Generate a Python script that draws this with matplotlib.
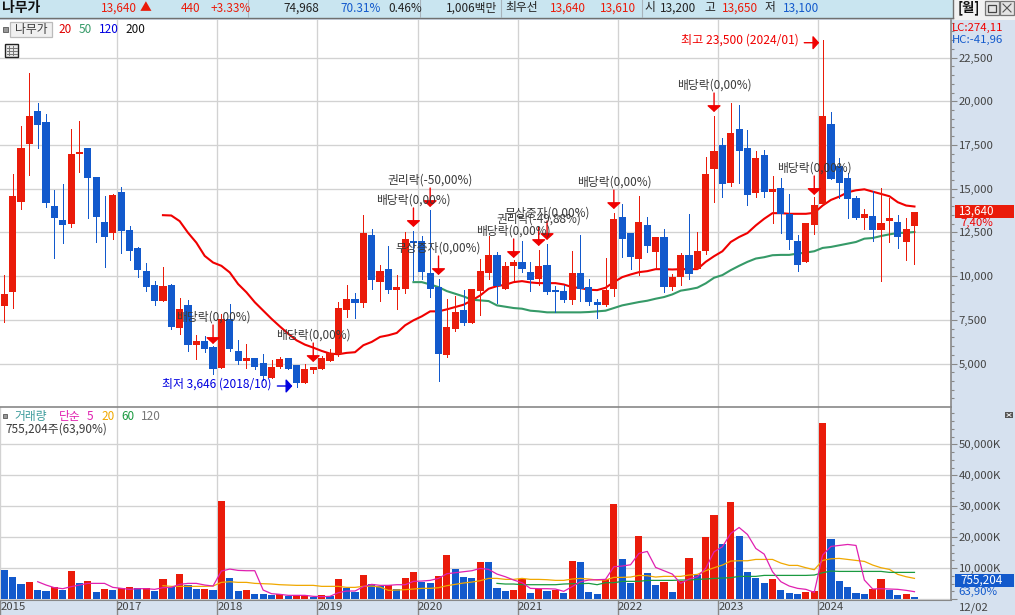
#!/usr/bin/env python3
"""Monthly candlestick and volume chart for 나무가, with moving averages and event markers."""

import numpy as np
import matplotlib
matplotlib.use("Agg")
import matplotlib.pyplot as plt
from matplotlib.patches import Rectangle
from matplotlib.ticker import FuncFormatter, MultipleLocator

plt.rcParams["font.family"] = ["Noto Sans CJK KR", "DejaVu Sans"]

RED = "#EA1B0A"
BLUE = "#1259CC"
GRID = "#D2D2D2"
HEADER_BG = "#C9E5F0"
PANEL_BG = "#D6E1EF"
EDGE = "#888888"
TEXT = "#3A3A3A"

# monthly prices, oldest first
opens = [
    8300, 9070, 14250, 17580, 19460, 18830, 14000, 13200, 12970, 16990,
    17300, 15650, 13090, 12460, 14790, 12630, 11610, 10300, 9510, 8600,
    9510, 7010, 8320, 6040, 6270, 5930, 4730, 7520, 5700, 5130,
    5300, 5020, 4170, 4790, 5300, 4900, 3880, 4620, 4680, 5130,
    5530, 8040, 8670, 8440, 12370, 9690, 10380, 9180, 9290, 12030,
    12030, 10150, 9350, 5480, 6960, 8040, 7300, 9120, 10150, 11180,
    9290, 10550, 10780, 10210, 9860, 10660, 9180, 9120, 8610, 10150,
    9350, 8500, 8330, 9240, 13400, 12490, 11000, 12940, 11400, 12260,
    9380, 9940, 11190, 10400, 11420, 16140, 17500, 15340, 18430, 17350,
    14780, 16900, 14830, 15060, 13580, 11990, 10800, 12900, 14150, 18720,
    16270, 15590, 14490, 13300, 13410, 12620, 13130, 13070, 11930, 12840,
]
highs = [
    10080, 15820, 18600, 21640, 19910, 19290, 14900, 15250, 18430, 18890,
    17300, 15650, 14560, 14680, 15080, 12860, 11670, 10760, 9740, 10530,
    9570, 8770, 8660, 6610, 6550, 6000, 7860, 8430, 6330, 6100,
    5300, 5530, 5190, 5360, 5300, 4910, 4960, 4800, 5420, 5810,
    8540, 9470, 9010, 13510, 12710, 10660, 11750, 10090, 12540, 12600,
    12320, 13800, 9860, 8670, 8840, 9180, 9290, 10950, 12320, 11400,
    10830, 10900, 12030, 10780, 11520, 11860, 9410, 9470, 11460, 12370,
    9810, 8670, 11060, 13630, 14140, 12490, 14600, 13400, 12260, 12710,
    10120, 11310, 13580, 12500, 16820, 19170, 17920, 19910, 19800, 18380,
    17130, 17240, 15740, 15630, 14720, 12330, 13010, 14510, 23500, 19400,
    16780, 15870, 14600, 13810, 14890, 15060, 14490, 13470, 13350, 13650,
]
lows = [
    7370, 8160, 13830, 15760, 17300, 13940, 11060, 11910, 12820, 15930,
    13330, 11970, 10530, 12120, 11330, 10930, 9960, 9170, 8370, 8600,
    6950, 6670, 5700, 5250, 5640, 4390, 4730, 5700, 4960, 4740,
    4680, 4050, 4170, 4740, 4680, 3646, 3880, 4450, 4680, 5130,
    5420, 7640, 7580, 8210, 9290, 8550, 9010, 8100, 9010, 9750,
    9860, 8780, 3990, 5360, 6840, 7190, 7300, 7760, 9810, 8440,
    9240, 9750, 10210, 9120, 9470, 8950, 7930, 8500, 8380, 8550,
    8330, 7580, 8270, 8840, 11120, 10430, 10040, 11350, 10490, 9070,
    9200, 9490, 9830, 10400, 11250, 14260, 14550, 15170, 15340, 14090,
    14550, 14550, 13010, 12450, 11540, 10280, 10800, 12390, 14150, 15570,
    14490, 13350, 13240, 12670, 11990, 9720, 11930, 11590, 10910, 10680,
]
closes = [
    8980, 14560, 17300, 19170, 18660, 14190, 13310, 12920, 17010, 17080,
    15590, 13370, 12240, 14620, 12580, 11440, 10360, 9390, 8600, 9450,
    7060, 8140, 6040, 6270, 5810, 4680, 7520, 5810, 5130, 5300,
    4790, 4280, 4790, 5250, 4680, 3880, 4680, 4790, 5300, 5590,
    8200, 8670, 8440, 12490, 9750, 10320, 9180, 9350, 12140, 11920,
    10210, 9240, 5530, 7070, 7930, 7300, 9290, 10320, 11230, 9410,
    10600, 10780, 10430, 9750, 10600, 9070, 9070, 8610, 10150, 9290,
    8500, 8330, 9180, 13280, 12140, 11120, 13110, 11750, 12260, 9350,
    9950, 11190, 10110, 11420, 15860, 17160, 15290, 18210, 17130, 14660,
    16780, 14830, 15000, 13530, 12050, 10630, 13010, 14090, 19170, 15570,
    15340, 14430, 13350, 13530, 12620, 13010, 13350, 12220, 12670, 13640,
]

# moving averages start part way through the series
ma20_start = 19
ma20 = [
    13485, 13466, 13144, 12481, 11913, 11155, 10777, 10587, 10209, 9546,
    9072, 8504, 8030, 7557, 7121, 6705, 6326, 6080, 5909, 5720,
    5568, 5530, 5608, 5646, 6045, 6235, 6520, 6615, 6748, 7185,
    7470, 7698, 7983, 7983, 8097, 8230, 8363, 8610, 8895, 9275,
    9427, 9503, 9655, 9712, 9636, 9598, 9598, 9598, 9522, 9370,
    9313, 9218, 9199, 9332, 9655, 9940, 10092, 10225, 10282, 10396,
    10396, 10377, 10398, 10398, 10398, 10815, 11137, 11421, 11952, 12236,
    12463, 12899, 13278, 13600, 13600, 13563, 13563, 13563, 13620, 14036,
    14358, 14548, 14794, 14908, 14965, 14832, 14700, 14567, 14226, 14036,
    13980,
]
ma50_start = 49
ma50 = [
    9655, 9655, 9522, 9370, 9142, 8990, 8838, 8648, 8610, 8572,
    8325, 8249, 8173, 8135, 8021, 7983, 7926, 7926, 7926, 7926,
    7926, 7945, 7983, 8021, 8173, 8325, 8420, 8515, 8591, 8705,
    8800, 8952, 9166, 9242, 9337, 9583, 9905, 10057, 10341, 10587,
    10815, 11004, 11080, 11194, 11213, 11213, 11289, 11345, 11421, 11611,
    11668, 11762, 11857, 11952, 12141, 12179, 12293, 12388, 12463, 12482,
    12520,
]

# monthly volume in thousands of shares; bar colour follows the previous month
volumes = [
    9350, 7100, 4840, 5480, 2900, 2580, 3870, 2900, 9030, 5160,
    5800, 2260, 3220, 2900, 3550, 3870, 3550, 3550, 2580, 6450,
    3870, 8060, 4515, 3220, 3220, 2900, 31600, 6770, 2580, 2900,
    1610, 1610, 1290, 1610, 970, 1290, 1290, 645, 1290, 970,
    6450, 3550, 2260, 7740, 4840, 4190, 4515, 3225, 6770, 8710,
    5480, 5160, 7420, 14190, 9675, 7095, 6770, 11930, 11930, 3550,
    2580, 2900, 6450, 1935, 3225, 2580, 2900, 1935, 12255, 11930,
    2260, 1610, 6450, 30640, 12900, 5160, 20320, 8385, 4515, 5480,
    2260, 5800, 13220, 7740, 19995, 27090, 17740, 31280, 20320, 8710,
    6770, 5160, 6450, 2900, 1935, 1610, 2260, 2580, 56760, 19350,
    5800, 3870, 1935, 1610, 3225, 6450, 2900, 1290, 1610, 755,
]
volume_up = [
    0, 0, 0, 1, 0, 0, 1, 0, 1, 0,
    1, 0, 1, 0, 1, 1, 0, 1, 0, 1,
    0, 1, 0, 0, 1, 0, 1, 0, 0, 1,
    0, 0, 0, 1, 0, 1, 1, 0, 1, 0,
    1, 0, 0, 1, 0, 0, 1, 0, 1, 1,
    0, 0, 1, 1, 0, 0, 0, 1, 0, 0,
    0, 1, 1, 0, 1, 0, 1, 0, 1, 0,
    0, 0, 1, 1, 0, 0, 1, 0, 0, 1,
    0, 1, 1, 0, 1, 1, 0, 1, 0, 0,
    0, 0, 1, 0, 0, 0, 1, 1, 1, 0,
    0, 0, 0, 0, 1, 1, 0, 0, 1, 0,
]
vol_ma5_start = 4
vol_ma5 = [
    5590, 4515, 3655, 3330, 3980, 4515, 5050, 5050, 5050, 3760,
    3440, 3120, 3330, 3330, 3120, 3655, 3760, 4730, 5050, 5050,
    4515, 4190, 9030, 9675, 9245, 9140, 9140, 2900, 1720, 1505,
    1180, 1180, 1180, 860, 750, 860, 2040, 2580, 2580, 3980,
    4730, 4410, 4410, 4620, 4620, 5700, 5800, 6020, 6665, 8170,
    8490, 8815, 9140, 9890, 9570, 8060, 7200, 6130, 5270, 3440,
    3330, 3330, 3225, 2470, 4000, 5590, 6130, 6240, 6340, 10430,
    10640, 11070, 14730, 15370, 10210, 9140, 8060, 5050, 6450, 7200,
    9890, 15265, 16880, 21180, 23110, 20855, 16340, 14510, 8815, 5590,
    4190, 3440, 3120, 2150, 14190, 16985, 17310, 17630, 17310, 6130,
    3225, 3330, 3225, 3120, 2795, 2365,
]
vol_ma20_start = 19
vol_ma20 = [
    4300, 4085, 4085, 4085, 4085, 4085, 4190, 5375, 5590, 5375,
    5375, 5050, 4945, 4840, 4620, 4515, 4410, 4410, 4410, 4085,
    4085, 4085, 3760, 3760, 4085, 4190, 3870, 2795, 2900, 3010,
    3225, 3440, 3440, 3655, 4300, 4730, 5160, 5480, 5910, 6665,
    6665, 6340, 6340, 6665, 6340, 6340, 6235, 6020, 6020, 6450,
    6665, 6450, 6130, 6130, 6990, 6990, 7095, 7630, 7525, 7095,
    7310, 7310, 7310, 7740, 7955, 9140, 10100, 10965, 12255, 12360,
    12360, 12790, 12790, 12790, 11610, 10860, 10860, 10100, 9460, 12470,
    13000, 13115, 12790, 12470, 12150, 10965, 10100, 9570, 7955, 7200,
    6665,
]
vol_ma60_start = 59
vol_ma60 = [
    5050, 4840, 4840, 4620, 4620, 4620, 4620, 4620, 4840, 4945,
    4945, 5050, 4620, 5270, 5270, 5700, 5700, 5700, 6020, 6020,
    6020, 6020, 6130, 6130, 6340, 6450, 6665, 6770, 6880, 7310,
    7310, 7310, 7630, 7630, 7630, 7630, 7630, 7630, 7740, 8490,
    9030, 8920, 8920, 8920, 8920, 8920, 8920, 8600, 8600, 8600,
    8600,
]

price_ticks = [5000, 7500, 10000, 12500, 15000, 17500, 20000, 22500]
volume_ticks = [0, 10000, 20000, 30000, 40000, 50000]

year_labels = ["2015", "2017", "2018", "2019", "2020", "2021", "2022", "2023", "2024"]
year_first_bar = [0, 14, 26, 38, 50, 62, 74, 86, 98]

event_bars = [25, 37, 49, 51, 52, 61, 64, 65, 73, 85, 97]
event_labels = [
    "배당락(0,00%)", "배당락(0,00%)", "배당락(0,00%)", "권리락(-50,00%)",
    "무상증자(0,00%)", "배당락(0,00%)", "권리락(-49,88%)", "무상증자(0,00%)",
    "배당락(0,00%)", "배당락(0,00%)", "배당락(0,00%)",
]
event_tips = [6115, 5085, 12810, 13950, 10060, 11035, 11720, 12065, 13835, 19385, 14640]


def px(n):
    # figure is drawn at 100 dpi, annotate offsets are in points
    return n * 72 / 100


def style_axes(ax, ticks, minor_step):
    ax.set_facecolor("white")
    for side in ("top", "left", "bottom"):
        ax.spines[side].set_visible(False)
    ax.spines["right"].set_color(EDGE)
    ax.spines["right"].set_linewidth(1.2)
    ax.set_axisbelow(True)
    ax.yaxis.tick_right()
    ax.set_yticks(ticks)
    ax.yaxis.set_minor_locator(MultipleLocator(minor_step))
    ax.tick_params(axis="y", which="major", length=px(6), width=0.8, color=EDGE,
                   labelcolor="#444444", labelsize=8.2, pad=1.5)
    ax.tick_params(axis="y", which="minor", length=px(3), width=0.8, color=EDGE)
    ax.grid(axis="y", color=GRID, lw=0.95)
    ax.grid(axis="x", color=GRID, lw=0.95)
    ax.set_xlim(-0.515, 113.34)
    ax.set_xticks(np.array(year_first_bar[1:]) - 0.5)


def ma_line(ax, start, values, color, lw):
    x = np.arange(start, start + len(values))
    ax.plot(x, values, color=color, lw=lw, solid_joinstyle="round", zorder=2, antialiased=True)


def draw_candles(ax):
    x = np.arange(len(opens))
    o, h, l, c = map(np.array, (opens, highs, lows, closes))
    colors = [RED if cv >= ov else BLUE for ov, cv in zip(o, c)]
    ax.vlines(x, l, h, colors=colors, lw=0.72, zorder=3, antialiased=False)
    ax.bar(x, np.maximum(np.abs(c - o), 60), bottom=np.minimum(o, c), width=0.86,
           color=colors, zorder=3, antialiased=False)


def draw_events(ax):
    for bar, label, tip in zip(event_bars, event_labels, event_tips):
        ax.annotate("", xy=(bar, tip), xytext=(0, px(19)), textcoords="offset points",
                    arrowprops=dict(arrowstyle="-|>,head_width=0.42,head_length=0.38", color="#F00000",
                                    lw=1.0, shrinkA=0, shrinkB=0, mutation_scale=10), zorder=5)
        ax.annotate(label, xy=(bar, tip), xytext=(0, px(27)), textcoords="offset points",
                    ha="center", va="center", fontsize=8.5, color=TEXT, zorder=6)


def draw_extremes(ax):
    ax.annotate("", xy=(97.6, 23350), xytext=(px(-15), 0), textcoords="offset points",
                arrowprops=dict(arrowstyle="-|>,head_width=0.42,head_length=0.38", color="#F00000",
                                lw=1.0, shrinkA=0, shrinkB=0, mutation_scale=10), zorder=5)
    ax.annotate("최고 23,500 (2024/01)", xy=(97.6, 23500), xytext=(px(-21), 0),
                textcoords="offset points", ha="right", va="center", fontsize=8.7, color="#F00000", zorder=6)
    ax.annotate("", xy=(34.5, 3713), xytext=(px(-15), 0), textcoords="offset points",
                arrowprops=dict(arrowstyle="-|>,head_width=0.42,head_length=0.38", color="#0000E0",
                                lw=1.0, shrinkA=0, shrinkB=0, mutation_scale=10), zorder=5)
    ax.annotate("최저 3,646 (2018/10)", xy=(34.5, 3820), xytext=(px(-21), 0),
                textcoords="offset points", ha="right", va="center", fontsize=8.6, color="#0000E0", zorder=6)


def draw_chrome(ui):
    """Header strip, legends and side tags, placed in pixel coordinates."""
    def put(x, y, s, color="#222222", size=8.5, ha="left", weight="normal"):
        ui.text(x, y, s, color=color, fontsize=size, ha=ha, va="center", fontweight=weight)

    # header fields
    put(2, 8, "나무가", color="#111111", size=10, weight="bold")
    put(101, 8, "13,640", RED)
    put(140, 8, "▲", RED, size=8.5)
    put(181, 8, "440", RED)
    put(211, 8, "+3.33%", RED)
    put(283, 8, "74,968")
    put(340, 8, "70.31%", BLUE)
    put(388, 8, "0.46%")
    put(446, 8, "1,006백만")
    put(505, 8, "최우선")
    put(550, 8, "13,640", RED)
    put(600, 8, "13,610", RED)
    put(644, 8, "시")
    put(660, 8, "13,200")
    put(704, 8, "고")
    put(722, 8, "13,650", RED)
    put(765, 8, "저")
    put(783, 8, "13,100", BLUE)
    put(958, 8, "[월]", color="#111111", size=9.5, weight="bold")
    for x in (248, 420, 501, 642):
        ui.plot([x, x], [0, 17], color="#A8B4BC", lw=0.8)

    # window buttons
    for x in (985, 1000):
        ui.add_patch(Rectangle((x, 1), 14, 14, fc="#E4E4E4", ec="#777777", lw=0.9))
    ui.add_patch(Rectangle((988, 5), 8, 7, fc="none", ec="#444444", lw=0.9))
    ui.plot([1003, 1011], [4, 12], color="#555555", lw=0.8)
    ui.plot([1003, 1011], [12, 4], color="#555555", lw=0.8)

    # price legend
    ui.add_patch(Rectangle((3, 27), 5, 5, fc="#999999", ec="#666666", lw=0.7))
    ui.add_patch(Rectangle((10, 22), 42, 15, fc="#F0F0F0", ec="#BBBBBB", lw=0.9))
    put(31, 29.5, "나무가", TEXT, ha="center")
    put(58, 29.5, "20", "#E00000")
    put(79, 29.5, "50", "#369A68")
    put(99, 29.5, "120", "#0000E0")
    put(125, 29.5, "200", "#111111")

    # small table icon under the legend
    ui.add_patch(Rectangle((5.5, 43.5), 13, 13, fc="#E8E8E8", ec="#222222", lw=1.0))
    for x in (9.5, 13.5):
        ui.plot([x, x], [46, 55], color="#777777", lw=0.7)
    for y in (47.5, 50.5, 53.5):
        ui.plot([7, 17], [y, y], color="#777777", lw=0.7)

    # volume legend
    ui.add_patch(Rectangle((3, 414), 4, 4, fc="#999999", ec="#666666", lw=0.7))
    put(14, 416.5, "거래량", "#3A9A9A")
    put(59, 416.5, "단순", "#E020B0")
    put(87, 416.5, "5", "#E020B0")
    put(101, 416.5, "20", "#F0A800")
    put(121, 416.5, "60", "#1A9A40")
    put(141, 416.5, "120", "#777777")
    put(5, 429, "755,204주(63,90%)", TEXT)

    # side panel
    put(952, 27.5, "LC:274,11", "#F00000", size=8.2)
    put(952, 40, "HC:-41,96", BLUE, size=8.2)
    ui.add_patch(Rectangle((955, 205), 59, 13, fc=RED, ec="none"))
    put(958, 211.5, "13,640", "white", size=8.4)
    put(960, 223, "7,40%", "#F00000", size=8.2)
    ui.add_patch(Rectangle((955, 574), 59, 13, fc=BLUE, ec="none"))
    put(960, 580.5, "755,204", "white", size=8.4)
    put(958, 592, "63,90%", BLUE, size=8.2)
    put(959, 607.5, "12/02", "#444444", size=8.2)
    ui.add_patch(Rectangle((1005, 412), 8, 6, fc="#555555", ec="none"))
    ui.plot([1007, 1011], [413.5, 416.5], color="white", lw=0.6)
    ui.plot([1007, 1011], [416.5, 413.5], color="white", lw=0.6)


def main():
    fig = plt.figure(figsize=(10.15, 6.15), dpi=100, facecolor=PANEL_BG)

    # backdrop strips behind the charts
    bg = fig.add_axes([0, 0, 1, 1], zorder=-1)
    bg.set_xlim(0, 1015)
    bg.set_ylim(615, 0)
    bg.axis("off")
    bg.add_patch(Rectangle((0, 0), 953, 17.5, fc=HEADER_BG, ec="none"))
    bg.add_patch(Rectangle((953, 0), 62, 20, fc="#F2F2F2", ec="none"))
    bg.plot([0, 953], [18, 18], color="#707070", lw=1.0)
    bg.plot([953, 953], [0, 18], color="#707070", lw=1.0)
    bg.plot([0, 950], [20, 20], color="#AAAAAA", lw=0.9)

    ax_price = fig.add_axes([0, 208 / 615, 950.7 / 1015, 387 / 615])
    ax_vol = fig.add_axes([0, 15 / 615, 950.7 / 1015, 193 / 615])

    style_axes(ax_price, price_ticks, 500)
    ax_price.set_ylim(2512, 24649)
    ax_price.yaxis.set_major_formatter(FuncFormatter(lambda v, _: f"{v:,.0f}"))
    ax_price.tick_params(axis="x", length=0, labelbottom=False)

    draw_candles(ax_price)
    ma_line(ax_price, ma20_start, ma20, "#F00000", 1.5)
    ma_line(ax_price, ma50_start, ma50, "#369A68", 1.5)
    draw_events(ax_price)
    draw_extremes(ax_price)

    style_axes(ax_vol, volume_ticks, 2500)
    ax_vol.set_ylim(-323, 62054)
    ax_vol.yaxis.set_major_formatter(FuncFormatter(lambda v, _: f"{v:,.0f}K" if v > 0 else ""))

    x = np.arange(len(volumes))
    bar_colors = [RED if up else BLUE for up in volume_up]
    ax_vol.bar(x, volumes, width=0.86, color=bar_colors, zorder=3, antialiased=False)
    ma_line(ax_vol, vol_ma20_start, vol_ma20, "#F0A800", 0.9)
    ma_line(ax_vol, vol_ma60_start, vol_ma60, "#1A9A40", 0.9)
    ma_line(ax_vol, vol_ma5_start, vol_ma5, "#E020B0", 0.9)
    for line in ax_vol.lines:
        line.set_zorder(4)

    # year labels sit in the date strip, right of their tick
    ax_vol.set_xticks(np.array(year_first_bar) - 0.5)
    ax_vol.set_xticklabels(year_labels, ha="left", fontsize=8.2, color="#444444")
    ax_vol.tick_params(axis="x", length=px(15), width=1.0, color=EDGE, pad=px(-13.5))
    ax_vol.spines["bottom"].set_visible(True)
    ax_vol.spines["bottom"].set_color(EDGE)
    ax_vol.spines["top"].set_visible(True)
    ax_vol.spines["top"].set_color(EDGE)
    ax_vol.spines["top"].set_linewidth(1.2)

    ui = fig.add_axes([0, 0, 1, 1], zorder=5)
    ui.set_xlim(0, 1015)
    ui.set_ylim(615, 0)
    ui.axis("off")
    ui.patch.set_alpha(0)
    draw_chrome(ui)

    fig.savefig("out.png", dpi=100, facecolor=fig.get_facecolor())


if __name__ == "__main__":
    main()
